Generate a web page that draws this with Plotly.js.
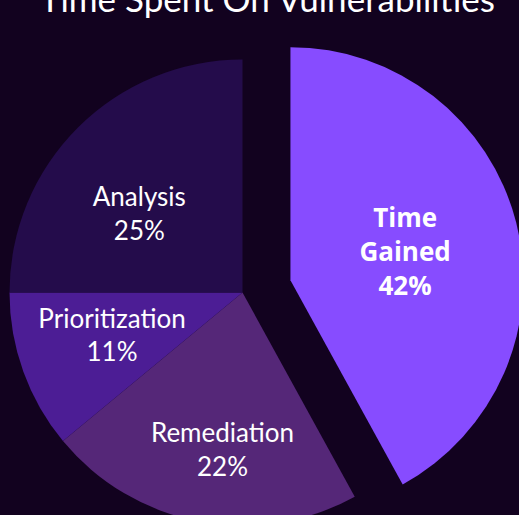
<!DOCTYPE html>
<html>
<head>
<meta charset="utf-8">
<script src="https://cdn.plot.ly/plotly-3.0.1.min.js"></script>
<style>
  html, body { margin: 0; padding: 0; width: 519px; height: 515px; overflow: hidden; background: #12021f; }
  #chart { position: absolute; left: -39.8px; top: -29.8px; width: 565px; height: 605px; }
</style>
</head>
<body>
<div id="chart"></div>
<script>
const labels = ['Time<br>Gained', 'Remediation', 'Prioritization', 'Analysis'];
const values = [42, 22, 11, 25];
const colors = ['#874cff', '#552778', '#4c1d95', '#240c4b'];
const pulls = [0.2124, 0, 0, 0];
const fonts = ['Open Sans, sans-serif', 'Lato, sans-serif', 'Lato, sans-serif', 'Lato, sans-serif'];

// invisible padding (non-breaking spaces) used only to nudge label placement
const nb = n => '\u00A0'.repeat(n);
const templates = [
  '<b>%{label}<br>%{percent}</b>',
  nb(1) + '<br>' + nb(2) + '%{label}<br>' + nb(2) + '%{percent}',
  nb(10) + '%{label}<br>' + nb(10) + '%{percent}<br>' + nb(1),
  nb(1) + '<br>%{label}' + nb(2) + '<br>%{percent}' + nb(2)
];

const bg = '#12021f';

Plotly.newPlot('chart', [{
  type: 'pie',
  labels: labels,
  values: values,
  sort: false,
  direction: 'clockwise',
  rotation: 0,
  pull: pulls,
  marker: { colors: colors, line: { width: 0 } },
  texttemplate: templates,
  textposition: 'inside',
  insidetextorientation: 'horizontal',
  textfont: { family: fonts, size: 26, color: '#ffffff' },
  hoverinfo: 'none',
  domain: { x: [0, 1], y: [0, 1] }
}], {
  width: 565,
  height: 605,
  margin: { l: 0, r: 0, t: 40, b: 0 },
  paper_bgcolor: bg,
  plot_bgcolor: bg,
  showlegend: false,
  uniformtext: { mode: 'show', minsize: 26 },
  title: {
    text: 'Time Spent On Vulnerabilities',
    font: { family: 'Lato, sans-serif', size: 35, color: '#ffffff' },
    x: 0.544, xref: 'container', xanchor: 'center',
    y: 0.931, yref: 'container', yanchor: 'bottom'
  }
}, { displayModeBar: false, staticPlot: true });
</script>
</body>
</html>
